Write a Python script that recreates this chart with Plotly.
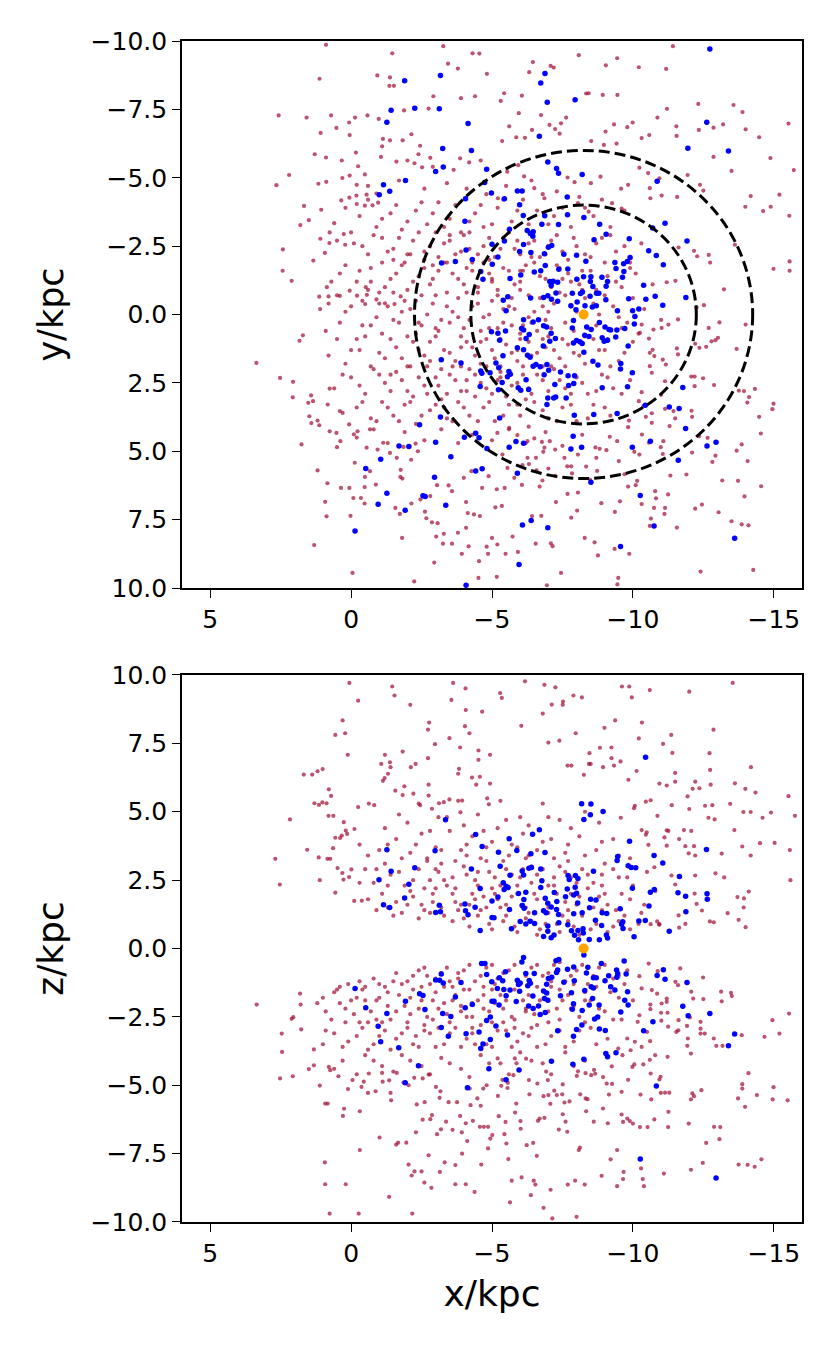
import plotly.graph_objs as go

'''
 Face-on (x, y) and edge-on (x, z) views of a star sample.
 Red: full sample, blue: selected stars, orange: the Sun.
 Values read off the reference picture, in kpc.
'''

# ---- top panel (x, y) ----------------------------------------------------
top_red_pts = [
    (0.89, -9.86), (-1.46, -9.55), (-3.27, -9.81), (1.12, -8.62), (-0.93, -8.74),
    (-1.38, -8.67), (-1.36, -8.36), (-1.52, -8.36), (-3.44, -9.17), (-3.79, -8.99),
    (-4.31, -9.55), (-4.55, -9.54), (-4.82, -8.8), (2.57, -7.28), (1.58, -7.2),
    (0.71, -7.28), (0.07, -7.02), (-0.14, -7.2), (-0.58, -7.28), (-0.98, -7.15),
    (-1.88, -7.46), (-2.75, -7.53), (-2.92, -7.98), (-3.9, -7.91), (-4.4, -7.98),
    (1.08, -6.64), (0.52, -6.82), (0.05, -6.56), (2.2, -5.1), (2.65, -4.73),
    (1.16, -4.78), (1.29, -5.86), (0.89, -5.74), (0.33, -5.63), (-0.17, -5.92),
    (-0.25, -5.42), (-0.49, -5.12), (-1.13, -6.42), (-1.1, -6.15), (-1.06, -5.76),
    (-1.38, -6.37), (-1.83, -6.37), (-2.14, -6.59), (-2.45, -6.17), (-2.39, -5.86),
    (-1.61, -5.59), (-2.0, -5.63), (-2.25, -5.53), (-2.81, -5.73), (-2.9, -5.4),
    (-2.52, -5.38), (-3.87, -5.71), (-4.19, -5.56), (-3.64, -5.29), (-4.6, -5.63),
    (1.8, -3.27), (1.5, -3.45), (1.67, -3.97), (2.42, -2.38), (2.43, -1.6),
    (2.11, -1.23), (1.09, -2.77), (0.76, -3.0), (0.77, -2.61), (1.06, -3.83),
    (0.6, -3.34), (0.26, -2.94), (0.21, -2.55), (1.34, -1.97), (0.93, -2.25),
    (0.35, -4.17), (0.06, -4.27), (0.88, -4.85), (0.31, -4.99), (0.05, -5.08),
    (-0.2, -4.74), (-0.19, -4.35), (-0.2, -4.04), (-0.55, -4.38), (-0.49, -3.98),
    (-0.76, -3.99), (-0.9, -4.42), (-0.96, -4.09), (0.86, -1.0), (0.8, -0.66),
    (1.13, -0.65), (0.4, -0.68), (0.05, -0.87), (-0.21, -0.69), (-0.52, -1.0),
    (-0.56, -0.72), (-0.5, -0.38), (-0.9, -0.55), (-1.2, -0.41), (-1.54, -0.38),
    (-1.76, -0.66),
    (-11.42, -9.81), (-8.08, -9.48), (-9.44, -9.37), (-10.21, -9.04), (-11.18, -8.98),
    (-9.04, -9.11), (-6.45, -9.23), (-7.08, -9.09), (-7.19, -9.03), (-6.32, -8.86),
    (-8.43, -8.09), (-8.34, -8.08), (-8.93, -8.03), (-9.45, -8.03), (-12.32, -7.7),
    (-13.57, -7.66), (-13.89, -7.4), (-11.21, -7.52), (-10.87, -7.2), (-9.99, -7.02),
    (-10.58, -6.56), (-10.31, -6.45), (-11.54, -6.88), (-11.55, -6.53), (-12.34, -6.75),
    (-12.86, -6.83), (-13.2, -6.95), (-14.0, -6.77), (-15.52, -6.98), (-14.48, -6.48),
    (-14.88, -5.72), (-15.71, -5.28), (-15.2, -4.38), (-14.89, -3.94), (-14.18, -4.33),
    (-13.99, -3.94), (-13.5, -5.25), (-12.86, -5.76), (-11.94, -5.1), (-12.38, -4.74),
    (-12.5, -4.53), (-11.57, -4.3), (-15.55, -3.61), (-14.62, -3.78), (-13.62, -2.55),
    (-12.69, -2.18), (-12.74, -1.9), (-12.17, -2.33), (-12.28, -2.13), (-14.99, -1.67),
    (-15.56, -1.6), (-15.56, -1.94), (-13.23, -0.92), (-12.52, -0.34), (-12.26, -0.26),
    (-11.51, -1.23), (-11.2, -1.18), (-11.62, -2.45), (-9.58, -4.6), (-9.83, -4.74),
    (-10.6, -4.62), (-10.62, -4.25), (-11.02, -4.35), (-10.23, -5.37), (-10.54, -5.17),
    (-10.94, -4.98), (-8.85, -5.04), (-8.51, -4.8), (-9.26, -4.07), (-9.6, -3.87),
    (-8.05, -4.07), (-8.43, -3.76), (-7.68, -5.01), (-7.93, -4.84), (-6.5, -4.62),
    (-6.86, -4.25), (-5.93, -5.46), (-6.14, -5.05), (-5.54, -5.22), (-5.21, -4.25),
    (-5.36, -6.34), (-5.86, -6.48), (-5.61, -6.88), (-7.45, -6.99), (-7.24, -6.78),
    (-7.4, -6.61), (-6.17, -6.46), (-6.42, -6.75), (-5.43, -8.09), (-5.31, -7.81),
    (-6.06, -8.0), (-5.95, -7.36), (-6.74, -7.29), (-7.04, -6.93), (-7.63, -7.2),
    (-8.52, -6.34), (-8.97, -6.2), (-9.42, -6.25), (-9.8, -6.85), (-9.33, -6.95),
    (-9.03, -6.69),
    (3.36, 1.77), (2.52, 2.32), (2.06, 2.46), (2.07, 3.03), (1.71, 0.76),
    (1.83, 0.96), (1.76, 4.75), (1.42, 2.96), (1.52, 3.23), (1.35, 3.17),
    (1.41, 3.97), (1.13, 4.05), (1.19, 5.7), (1.31, 8.43), (0.84, 6.17),
    (0.92, 6.85), (0.87, 7.38), (-0.05, 9.45), (0.02, 7.36), (0.36, 6.34),
    (0.06, 6.34), (-0.13, 5.42), (-0.49, 5.94), (-0.48, 6.31), (-0.08, 6.71),
    (-0.35, 6.71), (-0.48, 6.91), (-0.88, 6.22), (-0.67, 5.73), (-1.14, 4.69),
    (-0.94, 4.94), (-2.13, 5.31), (-1.76, 5.68), (-1.82, 6.0), (-1.57, 7.07),
    (-1.73, 7.29), (-2.14, 6.91), (-2.46, 6.76), (-2.62, 7.21), (-2.67, 7.45),
    (-2.87, 7.6), (-3.07, 7.63), (-1.81, 8.17), (-2.24, 9.76), (-2.95, 9.07),
    (-3.26, 8.38), (-3.58, 8.38), (-3.29, 8.02), (-3.02, 8.12), (-3.79, 7.98),
    (-4.08, 7.8), (-3.93, 8.75), (-4.17, 8.48), (-4.54, 9.02), (-4.52, 9.63),
    (-4.81, 8.49), (-4.86, 8.75), (-5.0, 8.17), (-4.36, 7.31), (-4.57, 7.37),
    (-4.14, 7.26), (-4.08, 6.86), (-3.46, 6.25), (-3.58, 6.46), (-3.05, 6.24),
    (-2.81, 6.64), (-4.0, 5.97), (-4.27, 5.73), (-4.65, 6.34), (-4.88, 5.91),
    (-2.29, 4.72), (-2.37, 5.0), (-1.62, 5.24), (-1.75, 5.94), (-1.38, 5.06),
    (-1.86, 4.84), (-0.55, 4.87), (-0.67, 4.2), (-0.1, 4.38), (-0.23, 4.27),
    (0.38, 4.63), (0.5, 4.85), (0.76, 4.27), (0.52, 4.33), (1.19, 3.88),
    (1.48, 3.72), (0.83, 3.29), (0.76, 2.71), (0.4, 3.53), (0.07, 4.02),
    (-11.6, 0.18), (-13.07, 0.29), (-14.0, 0.37), (-12.6, 1.18), (-12.79, 0.98),
    (-12.93, 0.94), (-13.68, 1.26), (-12.07, 2.27), (-12.19, 2.27), (-12.49, 2.33),
    (-12.88, 2.58), (-13.76, 2.78), (-13.94, 2.8), (-14.33, 2.72), (-14.06, 3.22),
    (-14.12, 3.02), (-14.99, 3.26), (-14.95, 3.46), (-14.48, 3.74), (-14.54, 4.35),
    (-13.86, 4.75), (-13.68, 4.98), (-14.07, 5.36), (-14.55, 6.28), (-13.73, 6.08),
    (-13.96, 6.65), (-12.82, 5.39), (-12.93, 5.16), (-13.17, 6.07), (-12.45, 6.95),
    (-12.21, 7.1), (-13.04, 7.23), (-13.86, 7.67), (-14.1, 7.71), (-13.5, 7.56),
    (-12.4, 9.4), (-14.27, 9.34), (-11.9, 5.85), (-11.12, 7.29), (-11.14, 7.07),
    (-11.56, 7.79), (-10.6, 7.73), (-10.64, 7.46), (-10.15, 6.08), (-10.1, 6.24),
    (-9.83, 6.29), (-11.25, 6.58), (-10.82, 6.72), (-10.75, 7.07), (-10.31, 6.93),
    (-9.54, 6.83), (-9.36, 7.22), (-9.35, 8.57), (-9.87, 8.75), (-9.45, 9.87),
    (-9.48, 9.63), (-8.76, 8.81), (-7.45, 9.45), (-6.95, 9.9), (-8.29, 8.17),
    (-8.64, 8.33), (-8.02, 7.17), (-7.81, 7.43), (-7.15, 8.47), (-7.09, 8.37),
    (-6.55, 8.38), (-5.48, 8.75), (-5.92, 8.68), (-5.17, 9.59), (-6.42, 7.37),
    (-6.75, 7.36), (-5.73, 8.12), (-5.19, 8.41), (-6.69, 6.29), (-7.27, 6.86),
    (-7.68, 6.56), (-8.05, 6.51), (-8.88, 6.9), (-8.48, 6.05), (-8.73, 5.72),
    (-9.5, 5.36), (-8.67, 4.86), (-8.34, 5.56), (-7.67, 5.55), (-7.84, 5.81),
    (-7.0, 5.63), (-7.24, 5.9), (-6.31, 5.47), (-6.58, 5.7), (-6.79, 6.07),
    (-5.79, 5.97), (-6.06, 6.23), (-5.17, 6.39), (-5.45, 6.34), (-5.35, 7.0),
    (-5.12, 7.05), (-10.79, 6.46), (-9.7, 5.84), (-10.05, 5.02), (-10.23, 5.12),
    (-10.99, 4.85), (-11.06, 5.1), (-11.33, 5.89), (-12.1, 5.05), (-12.65, 4.51),
    (-12.08, 3.52), (-12.1, 3.74), (-12.35, 4.45), (-11.3, 4.08), (-11.5, 3.8),
    (-11.08, 4.63), (-10.67, 3.96), (-10.46, 3.74), (-10.67, 3.61), (-9.86, 3.88),
    (-9.83, 4.12), (-10.32, 4.39), (-10.57, 4.69), (-9.44, 4.63), (-9.06, 4.96),
    (-9.18, 4.47), (-8.82, 4.91), (-8.7, 5.24), (-8.17, 4.87), (-8.05, 5.12),
    (-7.57, 5.24), (-7.81, 5.55), (-7.24, 4.94), (-7.05, 4.63), (-6.56, 5.24),
    (-6.82, 5.02), (-6.08, 5.51), (-6.26, 5.24), (-5.37, 5.12), (-5.55, 5.61),
    (-5.61, 4.14), (-5.9, 4.41), (-5.19, 4.33), (-6.26, 4.63), (-6.5, 4.53),
    (-6.77, 4.66), (-6.86, 4.87), (-11.17, 1.83), (-11.14, 2.44), (-10.67, 2.13),
    (-11.0, 2.93), (-10.6, 1.89), (-10.7, 1.29), (-10.76, 1.52), (-11.06, 1.65),
    (-11.56, 1.24), (-11.6, 1.46), (-12.21, 1.07), (-12.36, 1.22), (-10.31, 2.84),
    (-10.21, 3.17), (-10.37, 3.35), (-11.14, 3.45), (-11.44, 3.53), (-12.19, 2.62),
    (-12.69, 0.49), (-13.02, 0.85), (-10.25, 0.67), (-10.57, 0.88), (-10.73, 0.55),
    (-10.31, 0.37), (-11.02, 0.49), (-11.26, 0.37),
    # dense disc
    (-0.3, -3.6), (-0.9, -3.2), (-1.4, -3.7), (-1.8, -3.1), (-2.3, -3.8),
    (-2.7, -3.3), (-3.1, -4.1), (-3.5, -3.5), (-3.9, -3.0), (-4.4, -3.7),
    (-4.8, -4.4), (-5.2, -3.9), (-5.7, -3.4), (-6.1, -4.2), (-6.6, -3.8),
    (-7.0, -3.3), (-7.5, -3.9), (-8.1, -4.3), (-8.6, -3.6), (-9.2, -3.2),
    (-9.7, -3.8), (-0.1, -2.6), (-0.6, -2.2), (-1.1, -2.8), (-1.5, -2.4),
    (-1.9, -1.9), (-2.2, -2.7), (-2.6, -2.3), (-2.9, -1.8), (-3.3, -2.6),
    (-3.7, -2.2), (-4.0, -2.9), (-4.3, -1.9), (-4.7, -2.5), (-5.1, -2.1),
    (-5.4, -2.8), (-5.8, -2.4), (-6.2, -1.8), (-6.5, -2.7), (-6.9, -2.2),
    (-7.3, -2.9), (-7.7, -2.0), (-8.0, -2.5), (-8.5, -2.1), (-8.9, -2.8),
    (-9.4, -2.3), (-9.9, -1.9), (-10.3, -2.6), (0.4, -1.5), (-0.2, -1.2),
    (-0.7, -1.7), (-1.2, -1.0), (-1.6, -1.5), (-2.0, -0.9), (-2.4, -1.4),
    (-2.8, -1.1), (-3.1, -1.6), (-3.4, -0.8), (-3.8, -1.3), (-4.1, -1.7),
    (-4.5, -1.0), (-4.9, -1.5), (-5.2, -0.9), (-5.6, -1.6), (-6.0, -1.2),
    (-6.3, -0.7), (-6.7, -1.4), (-7.1, -1.0), (-7.4, -1.7), (-7.8, -1.2),
    (-8.2, -1.6), (-8.7, -0.9), (-9.1, -1.4), (-9.6, -1.0), (-10.1, -1.5),
    (-10.7, -1.1), (0.8, -0.4), (0.2, -0.1), (-0.4, -0.5), (-0.9, 0.1),
    (-1.3, -0.3), (-1.7, 0.3), (-2.1, -0.2), (-2.5, 0.4), (-2.9, -0.4),
    (-3.2, 0.2), (-3.6, -0.1), (-4.0, 0.5), (-4.3, -0.3), (-4.7, 0.1),
    (-5.0, -0.5), (-5.4, 0.3), (-5.8, -0.2), (-6.1, 0.4), (-6.5, -0.1),
    (-6.9, 0.2), (-7.2, -0.4), (-7.6, 0.3), (-8.0, -0.1), (-8.4, 0.5),
    (-8.8, 0.0), (-9.3, -0.3), (-9.8, 0.3), (-10.4, -0.2), (-11.0, 0.2),
    (0.5, 0.9), (0.0, 1.3), (-0.5, 0.8), (-1.0, 1.4), (-1.4, 0.9),
    (-1.8, 1.6), (-2.2, 1.0), (-2.6, 1.5), (-3.0, 0.8), (-3.3, 1.3),
    (-3.7, 1.7), (-4.1, 1.0), (-4.4, 1.5), (-4.8, 0.9), (-5.1, 1.6),
    (-5.5, 1.1), (-5.9, 1.7), (-6.3, 1.0), (-6.6, 1.4), (-7.0, 0.8),
    (-7.4, 1.6), (-7.7, 1.1), (-8.1, 1.5), (-8.6, 0.9), (-9.0, 1.3),
    (-9.5, 1.7), (-10.0, 1.0), (-10.6, 1.4), (0.3, 2.2), (-0.3, 2.6),
    (-0.8, 2.0), (-1.2, 2.5), (-1.6, 2.1), (-2.0, 2.8), (-2.4, 2.3),
    (-2.7, 1.9), (-3.1, 2.6), (-3.5, 2.2), (-3.9, 2.8), (-4.2, 2.0),
    (-4.6, 2.5), (-5.0, 2.9), (-5.3, 2.1), (-5.7, 2.6), (-6.1, 2.2),
    (-6.4, 2.9), (-6.8, 2.4), (-7.2, 2.0), (-7.6, 2.7), (-8.0, 2.3),
    (-8.4, 2.9), (-8.9, 2.2), (-9.3, 2.7), (-9.9, 2.4), (-0.2, 3.4),
    (-0.7, 3.8), (-1.1, 3.2), (-1.5, 3.7), (-1.9, 3.3), (-2.3, 4.0),
    (-2.8, 3.5), (-3.2, 3.1), (-3.6, 3.9), (-4.0, 3.4), (-4.5, 3.9),
    (-4.9, 3.2), (-5.4, 3.7), (-5.9, 3.3), (-6.3, 4.1), (-6.8, 3.5),
    (-7.3, 3.9), (-7.8, 3.3), (-8.4, 3.8), (-9.0, 3.4), (-2.5, -0.7),
    (-3.0, 0.5), (-3.4, -1.9), (-3.9, 1.2), (-4.2, -2.4), (-4.6, 0.6),
    (-5.0, -1.2), (-5.3, 2.3), (-5.7, -0.6), (-6.0, 0.9), (-6.4, -2.1),
    (-6.8, -0.3), (-7.1, 1.9), (-7.5, -1.3), (-2.7, 2.9), (-3.5, -2.9),
    (-4.4, 3.0), (-5.6, -3.1), (-6.2, 3.1), (-2.0, -2.2), (-1.0, -0.8),
    (-1.4, 2.2), (-2.3, 0.7), (-3.8, -0.6), (-4.1, 2.4), (-4.9, -2.0),
    (-5.4, -0.2), (-5.9, 1.3), (-6.6, 0.6), (-7.0, -2.5), (-7.9, 0.6),
    (-8.3, -0.6), (-3.0, -3.0), (-4.7, -3.2), (-5.9, -2.7), (-3.3, 3.4),
    (-4.8, 1.9), (-2.1, 1.9), (-1.5, -2.0), (-0.4, 0.4), (-1.9, -0.5),
    (-2.6, -2.0), (-3.6, 1.9), (-4.5, -0.8), (-5.2, 0.5), (-6.0, -1.6),
    (-6.9, 1.2), (-7.6, -0.7),
    (-0.6, -4.7), (-1.7, -4.9), (-2.6, -4.6), (-3.4, -4.8), (-4.1, -4.6),
    (-5.5, -4.7), (-6.4, -4.9), (-7.3, -4.5), (0.2, -3.9), (-0.6, -4.2),
    (-1.1, -3.5), (-1.6, -4.0), (-2.0, -3.4), (-2.5, -4.1), (-2.9, -3.7),
    (-3.3, -3.2), (-3.7, -4.0), (-4.2, -3.4), (-4.6, -4.0), (-5.0, -3.3),
    (-5.4, -4.2), (-5.9, -3.8), (-6.3, -3.3), (-6.8, -4.4), (-7.2, -3.6),
    (-7.8, -3.2), (-8.3, -3.9), (-8.9, -4.2), (0.5, -2.7), (0.0, -3.0),
    (-0.4, -2.5), (-0.8, -2.9), (-1.3, -2.3), (-1.7, -2.8), (-2.1, -2.2),
    (-2.4, -3.0), (-2.8, -2.5), (-3.1, -2.1), (-3.5, -2.7), (-3.9, -2.3),
    (-4.2, -3.0), (-4.5, -2.2), (-4.9, -2.8), (-5.3, -2.4), (-5.6, -3.0),
    (-6.0, -2.2), (-6.3, -2.6), (-6.7, -2.1), (-7.1, -2.7), (-7.5, -2.3),
    (-7.9, -2.8), (-8.3, -2.2), (-8.7, -2.6), (-9.2, -2.9), (-9.7, -2.5),
    (0.7, -1.2), (0.2, -1.8), (-0.3, -1.6), (-0.7, -1.2), (-1.1, -1.9),
    (-1.4, -1.3), (-1.8, -1.8), (-2.2, -1.2), (-2.6, -1.7), (-2.9, -1.3),
    (-3.3, -1.9), (-3.6, -1.5), (-4.0, -1.1), (-4.3, -1.6), (-4.7, -1.9),
    (-5.0, -1.3), (-5.4, -1.7), (-5.8, -1.1), (-6.1, -1.6), (-6.5, -1.9),
    (-6.9, -1.3), (-7.3, -1.8), (-7.7, -1.5), (-8.1, -1.1), (-8.5, -1.6),
    (-9.0, -1.9), (-9.4, -1.2), (-9.9, -1.7), (1.1, -0.2), (0.5, -0.7),
    (0.0, -0.3), (-0.6, -0.9), (-1.0, -0.4), (-1.5, -0.8), (-1.8, -0.1),
    (-2.3, -0.5), (-2.7, 0.0), (-3.0, -0.7), (-3.4, -0.3), (-3.8, 0.1),
    (-4.1, -0.8), (-4.5, -0.4), (-4.9, 0.0), (-5.2, -0.7), (-5.6, -0.3),
    (-6.0, -0.9), (-6.3, 0.1), (-6.7, -0.6), (-7.0, -0.1), (-7.4, -0.8),
    (-7.8, -0.3), (-8.2, -0.9), (-8.6, -0.4), (-9.0, -0.7), (-9.5, 0.1),
    (-10.0, -0.6), (0.9, 0.6), (0.4, 0.3), (-0.2, 0.9), (-0.7, 0.4),
    (-1.1, 0.7), (-1.5, 0.2), (-2.0, 0.8), (-2.4, 0.3), (-2.8, 1.0),
    (-3.1, 0.6), (-3.5, 0.3), (-3.9, 0.8), (-4.2, 0.2), (-4.6, 1.0),
    (-4.9, 0.5), (-5.3, 0.9), (-5.7, 0.4), (-6.0, 0.7), (-6.4, 0.3),
    (-6.8, 0.9), (-7.1, 0.5), (-7.5, 0.9), (-7.9, 0.2), (-8.3, 0.8),
    (-8.7, 0.4), (-9.1, 0.9), (-9.6, 0.5), (-10.2, 0.7), (0.8, 1.5),
    (0.2, 1.8), (-0.3, 1.3), (-0.7, 1.9), (-1.2, 1.6), (-1.6, 1.2),
    (-2.0, 1.9), (-2.4, 1.3), (-2.8, 1.7), (-3.2, 2.0), (-3.5, 1.4),
    (-3.9, 1.9), (-4.3, 1.2), (-4.6, 1.8), (-5.0, 1.3), (-5.3, 1.9),
    (-5.7, 1.4), (-6.1, 1.9), (-6.4, 1.5), (-6.8, 1.9), (-7.2, 1.3),
    (-7.6, 1.9), (-7.9, 1.4), (-8.3, 1.8), (-8.8, 1.3), (-9.2, 1.9),
    (-9.7, 1.4), (0.6, 2.7), (0.0, 2.3), (-0.5, 2.9), (-1.0, 2.2),
    (-1.4, 2.8), (-1.8, 2.4), (-2.2, 3.0), (-2.6, 2.6), (-3.0, 2.3),
    (-3.4, 2.9), (-3.7, 2.4), (-4.1, 2.8), (-4.4, 2.2), (-4.8, 2.7),
    (-5.2, 2.4), (-5.5, 3.0), (-5.9, 2.5), (-6.3, 2.7), (-6.6, 2.2),
    (-7.0, 2.8), (-7.4, 2.4), (-7.8, 2.9), (-8.2, 2.5), (-8.7, 2.8),
    (-9.1, 2.3), (-9.6, 2.9), (0.3, 3.6), (-0.4, 3.2), (-0.9, 3.9),
    (-1.3, 3.4), (-1.7, 3.9), (-2.1, 3.2), (-2.5, 3.7), (-3.0, 3.3),
    (-3.4, 3.8), (-3.8, 3.2), (-4.2, 3.7), (-4.7, 3.4), (-5.1, 3.9),
    (-5.6, 3.3), (-6.0, 3.7), (-6.5, 3.2), (-7.0, 3.8), (-7.5, 3.4),
    (-8.0, 3.9), (-8.6, 3.3), (-9.2, 3.7), (-0.2, 4.5), (-0.8, 4.2),
    (-1.3, 4.7), (-1.9, 4.3), (-2.6, 4.6), (-3.2, 4.2), (-3.8, 4.7),
    (-4.3, 4.4), (-5.0, 4.6), (-5.6, 4.2), (-6.2, 4.7), (-6.9, 4.3),
    (-7.5, 4.8), (-8.2, 4.4),
]

top_blue_pts = [
    (-1.9, -8.55), (-3.17, -8.74), (-1.42, -7.47), (-2.26, -7.54), (-3.13, -7.52),
    (-1.27, -7.03), (-4.15, -6.98), (-3.25, -6.07), (-4.27, -6.0), (-3.27, -5.39),
    (-3.0, -5.23), (-4.81, -5.31), (-1.93, -4.9), (-1.15, -4.74), (-1.37, -4.51),
    (-1.0, -4.38), (-4.74, -4.83), (-4.98, -4.44), (-4.06, -4.23), (-4.04, -3.41),
    (-5.0, -2.57), (-4.08, -2.36), (-4.3, -2.01), (-3.7, -1.94), (-3.21, -1.88),
    (-5.01, -1.84), (-4.6, -1.57), (-4.68, -1.29),
    (-12.73, -9.71), (-6.88, -8.81), (-6.73, -8.46), (-6.96, -7.76), (-7.95, -7.85),
    (-12.62, -7.03), (-6.68, -6.52), (-11.95, -6.08), (-13.39, -5.98), (-6.98, -5.58),
    (-7.29, -5.34), (-7.36, -5.16), (-8.2, -5.12), (-10.86, -4.87), (-5.9, -4.52),
    (-6.07, -4.52), (-5.44, -4.23), (-7.67, -4.3), (-5.98, -4.01), (-6.11, -3.62),
    (-6.87, -3.61), (-7.68, -3.65), (-8.26, -3.55), (-6.25, -3.07), (-6.36, -2.96),
    (-6.46, -3.03), (-6.45, -2.86), (-6.77, -3.3), (-7.36, -3.29), (-8.82, -3.3),
    (-11.14, -3.34), (-10.7, -3.16), (-9.05, -2.93), (-5.62, -3.12), (-5.44, -2.69),
    (-9.87, -2.77), (-8.62, -2.73), (-11.92, -2.69), (-6.12, -2.56), (-7.0, -2.46),
    (-7.12, -2.52), (-5.98, -2.3), (-6.38, -2.27), (-6.86, -2.22), (-7.55, -2.2),
    (-8.0, -2.17), (-10.56, -2.33), (-10.83, -2.16), (-5.21, -2.1), (-8.33, -1.95),
    (-9.36, -1.9), (-9.67, -1.86), (-9.8, -1.94), (-9.9, -2.08), (-11.08, -1.82),
    (-6.89, -1.79), (-7.37, -1.65), (-7.69, -1.66), (-9.4, -1.68), (-9.68, -1.57),
    (-6.5, -1.55), (-6.73, -1.6), (-6.02, -1.44), (-5.64, -1.32), (-8.01, -1.29),
    (-8.25, -1.38), (-8.51, -1.38), (-8.49, -1.21), (-8.9, -1.36), (-9.1, -1.21),
    (-9.05, -1.03), (-9.63, -1.36), (-7.05, -1.21), (-7.17, -1.22), (-7.33, -1.18),
    (-7.1, -1.06), (-10.38, -1.07), (-8.58, -1.02), (-7.85, -0.78), (-8.14, -0.77),
    (-8.21, -0.82), (-8.71, -0.78), (-8.79, -0.78), (-8.48, -0.67), (-9.04, -0.54),
    (-7.27, -0.79), (-6.37, -0.6), (-6.83, -0.62), (-6.98, -0.69), (-7.11, -0.56),
    (-7.33, -0.48), (-5.4, -0.52), (-5.56, -0.65), (-9.85, -0.58), (-10.46, -0.56),
    (-10.79, -0.67), (-11.88, -0.62), (-11.06, -0.34), (-7.8, -0.32), (-8.02, -0.46),
    (-8.3, -0.32), (-8.56, -0.27), (-8.7, -0.32), (-9.45, -0.14), (-9.99, -0.14),
    (-10.21, -0.2), (-5.5, -0.14), (-7.98, -0.17),
    (-4.98, 0.63), (-3.2, 1.65), (-3.9, 1.77), (-4.6, 2.07), (-4.64, 2.15),
    (-4.93, 2.13), (-4.58, 2.63), (-3.17, 3.75), (-2.43, 4.03), (-4.42, 4.34),
    (-4.02, 4.49), (-4.54, 4.51), (-3.0, 4.67), (-1.7, 4.81), (-2.05, 4.83),
    (-4.82, 4.9), (-1.05, 5.29), (-3.54, 5.2), (-0.52, 5.63), (-4.42, 5.72),
    (-4.65, 5.64), (-2.96, 5.95), (-1.27, 6.54), (-2.55, 6.63), (-2.63, 6.65),
    (-0.96, 6.94), (-1.92, 7.16), (-3.36, 6.97), (-0.14, 7.92), (-4.08, 9.9),
    (-6.12, 0.19), (-6.46, 0.27), (-6.65, 0.19), (-7.89, 0.22), (-8.81, 0.29),
    (-10.07, 0.07), (-10.05, 0.35), (-9.71, 0.51), (-9.43, 0.57), (-9.15, 0.55),
    (-9.21, 0.57), (-9.01, 0.46), (-8.36, 0.46), (-8.52, 0.55), (-7.85, 0.49),
    (-6.83, 0.41), (-6.94, 0.46), (-6.05, 0.51), (-6.12, 0.57), (-5.48, 0.6),
    (-5.21, 0.69), (-6.32, 0.73), (-7.1, 0.69), (-7.25, 0.88), (-7.05, 0.98),
    (-6.21, 0.88), (-8.29, 0.76), (-8.44, 0.8), (-8.91, 0.85), (-9.1, 0.94),
    (-8.98, 0.98), (-9.39, 0.82), (-5.27, 0.94), (-7.89, 1.04), (-8.12, 1.0),
    (-8.2, 1.06), (-8.0, 0.95), (-6.82, 1.15), (-9.83, 1.15), (-5.9, 1.22),
    (-8.26, 1.38), (-6.12, 1.29), (-5.39, 1.51), (-6.26, 1.49), (-6.35, 1.56),
    (-5.14, 1.77), (-8.58, 1.71), (-8.76, 1.85), (-6.46, 1.89), (-6.56, 1.83),
    (-6.71, 1.91), (-6.95, 1.83), (-7.01, 2.04), (-6.85, 2.2), (-9.57, 1.79),
    (-9.56, 1.99), (-5.24, 1.95), (-5.6, 2.08), (-5.55, 2.28), (-5.65, 2.18),
    (-7.43, 2.1), (-7.7, 2.24), (-7.93, 2.24), (-9.98, 2.13), (-6.21, 2.39),
    (-5.36, 2.49), (-5.23, 2.75), (-7.23, 2.56), (-7.9, 2.52), (-7.72, 2.6),
    (-5.93, 2.68), (-6.02, 2.77), (-6.3, 2.74), (-8.91, 2.68), (-9.81, 2.64),
    (-11.77, 2.67), (-6.98, 3.05), (-7.19, 3.05), (-7.26, 3.02), (-7.63, 3.05),
    (-6.95, 3.29), (-10.44, 3.32), (-11.29, 3.38), (-11.64, 3.44), (-8.61, 3.66),
    (-7.92, 3.68), (-9.44, 3.62), (-5.27, 3.78), (-11.87, 4.17), (-7.88, 4.45),
    (-5.85, 4.64), (-6.12, 4.71), (-10.62, 4.63), (-5.61, 4.85), (-7.8, 4.92),
    (-8.18, 4.85), (-9.98, 4.85), (-12.63, 4.81), (-12.95, 4.67), (-11.61, 5.33),
    (-5.9, 5.8), (-8.51, 6.13), (-10.26, 6.62), (-6.39, 7.53), (-6.08, 7.7),
    (-6.98, 7.8), (-10.75, 7.73), (-13.61, 8.18), (-9.56, 8.48), (-5.96, 9.14),
]

# ---- bottom panel (x, z) -------------------------------------------------
bottom_red_pts = [
    (0.06, 9.71), (-1.46, 9.58), (-1.54, 9.25), (-0.25, 9.06), (-2.1, 8.91),
    (-3.62, 9.71), (-4.06, 9.51), (-3.56, 9.09), (-4.65, 8.66), (-4.07, 8.72),
    (-2.77, 8.26), (-2.73, 8.0), (0.3, 8.34), (0.56, 7.81), (0.21, 7.87),
    (0.12, 7.08), (-2.98, 7.47), (-3.49, 7.69), (-4.04, 8.13), (-4.2, 7.87),
    (-3.87, 7.35), (-1.83, 7.2), (-1.2, 7.08), (-1.07, 6.75), (-1.38, 6.81),
    (-1.4, 6.63), (-2.29, 6.75), (-2.12, 6.63), (-2.73, 6.96), (1.68, 6.36),
    (1.38, 6.36), (1.19, 6.48), (1.01, 6.56), (2.17, 4.72), (2.69, 3.28),
    (2.53, 2.34), (1.56, 3.61), (1.11, 2.5), (0.56, 2.04), (1.3, 5.31),
    (1.14, 5.25), (1.02, 5.34), (0.87, 5.31), (0.79, 5.82), (0.71, 5.58),
    (0.8, 4.85), (0.63, 4.85), (1.15, 3.33), (0.84, 3.28), (0.74, 3.28),
    (0.64, 3.67), (0.26, 4.62), (0.19, 4.31), (0.14, 4.19), (0.33, 4.13),
    (-0.12, 4.37), (-0.25, 5.17), (-0.63, 5.3), (-0.82, 5.24), (-1.13, 6.13),
    (-1.19, 6.23), (-1.31, 6.39), (-1.89, 5.93), (-1.57, 5.77), (-1.83, 5.61),
    (-2.21, 5.66), (-2.75, 5.99), (-2.45, 5.24), (-2.75, 5.59), (-3.12, 5.31),
    (-3.29, 5.35), (-3.49, 5.45), (-3.8, 6.39), (-3.83, 6.57), (-4.29, 6.25),
    (-4.44, 5.99), (-4.57, 6.28), (-4.52, 7.24), (-4.52, 6.9), (-4.93, 7.08),
    (-4.93, 6.03), (-4.83, 5.49), (-4.89, 5.27), (-3.94, 5.41), (-3.88, 4.98),
    (-2.87, 5.11), (0.48, 2.94), (0.31, 2.76), (-0.01, 2.89), (-0.11, 1.74),
    (-0.38, 1.75), (0.27, 2.52), (0.07, 2.61), (0.56, 4.05), (0.39, 4.04),
    (-6.17, 9.77), (-6.86, 9.64), (-7.25, 9.55), (-7.89, 9.25), (-8.19, 9.18),
    (-7.52, 9.03), (-7.51, 8.91), (-7.12, 8.92), (-6.8, 8.59), (-9.61, 9.58),
    (-9.87, 9.58), (-9.96, 9.18), (-10.6, 9.45), (-12.0, 9.39), (-13.54, 9.71),
    (-5.29, 9.34), (-5.35, 9.16), (-6.04, 8.14), (-7.97, 7.87), (-7.39, 7.6),
    (-7.0, 7.53), (-8.99, 8.07), (-9.37, 8.34), (-10.32, 8.26), (-10.21, 7.68),
    (-11.07, 7.48), (-11.36, 7.81), (-12.86, 8.0), (-9.24, 7.35), (-8.83, 7.34),
    (-9.56, 6.84), (-9.24, 6.96), (-9.33, 6.69), (-8.46, 7.14), (-7.68, 6.69),
    (-7.82, 6.69), (-8.44, 6.75), (-8.5, 6.75), (-11.4, 7.15), (-12.72, 7.14),
    (-8.94, 6.63), (-8.26, 6.35), (-10.13, 6.49), (-9.84, 6.17), (-10.94, 6.03),
    (-11.2, 5.96), (-11.5, 6.42), (-11.5, 6.1), (-12.74, 6.53), (-12.76, 5.99),
    (-12.21, 6.1), (-12.36, 5.86), (-12.12, 5.84), (-11.94, 5.56), (-13.62, 6.04),
    (-13.99, 5.84), (-14.35, 5.7), (-14.19, 6.63), (-15.52, 5.57), (-15.75, 4.85),
    (-14.9, 4.97), (-14.6, 4.78), (-14.18, 4.99), (-13.45, 5.29), (-12.82, 5.24),
    (-12.56, 5.22), (-12.0, 5.1), (-11.38, 5.24), (-10.87, 4.85), (-10.46, 5.37),
    (-10.63, 5.42), (-10.07, 5.22), (-10.04, 5.13), (-9.57, 4.78), (-10.31, 4.33),
    (-10.49, 4.25), (-11.2, 4.32), (-11.26, 4.3), (-11.81, 4.33), (-12.07, 4.3),
    (-12.68, 4.78), (-12.9, 4.72), (-13.6, 4.33), (-13.92, 4.99), (-14.51, 3.85),
    (-15.03, 3.86), (-13.88, 3.73), (-14.18, 3.4), (-15.57, 3.6), (-15.59, 2.5),
    (-12.21, 2.67), (-12.93, 2.75), (-13.24, 2.6), (-13.71, 1.88), (-13.94, 1.83),
    (-14.11, 2.08), (-13.93, 1.5), (-13.36, 1.29), (-12.73, 0.99), (-12.87, 0.96),
    (-13.75, 1.05), (-14.0, 0.78), (-12.45, 1.39), (-13.15, 3.47), (-12.17, 3.74),
    (-11.98, 3.48), (-11.12, 4.06), (-11.2, 3.76), (-10.46, 4.16), (-10.55, 3.79),
    (-11.86, 3.74), (-12.21, 3.4), (-11.64, 4.0), (-10.76, 2.97), (-11.37, 2.67),
    (-11.5, 2.34), (-12.19, 2.01), (-11.64, 0.76), (-10.93, 0.87), (-10.86, 0.99),
    (-10.94, 0.89), (-10.63, 0.89), (-11.62, 1.21), (-12.26, 1.63), (-11.86, 0.9),
    (3.35, -2.05), (2.52, -4.75), (2.07, -4.67), (2.46, -3.11), (2.45, -3.78),
    (2.11, -2.57), (2.05, -2.51), (1.77, -2.96), (1.81, -1.65), (1.79, -2.05),
    (1.5, -4.41), (1.32, -4.27), (1.32, -3.69), (1.11, -5.01), (0.92, -5.67),
    (0.83, -5.67), (0.29, -6.12), (0.25, -5.86), (0.93, -7.82), (0.92, -8.62),
    (0.19, -8.62), (0.76, -9.69), (-0.27, -9.69), (-1.35, -9.08), (-0.31, -5.95),
    (-0.31, -7.37), (-1.01, -6.91), (-1.6, -7.17), (-1.67, -7.1), (-1.96, -7.1),
    (-1.42, -5.55), (-1.4, -5.28), (-0.87, -5.22), (-1.12, -4.87), (-0.6, -5.28),
    (-0.37, -5.06), (0.11, -5.14), (-0.05, -4.81), (0.79, -4.33), (0.74, -4.45),
    (0.45, -4.67), (-2.04, -7.9), (-2.25, -8.15), (-2.5, -8.15), (-2.15, -8.3),
    (-2.6, -8.56), (-2.85, -8.75), (-2.75, -7.56), (-3.15, -8.17), (-3.32, -7.82),
    (-3.7, -7.92), (-3.7, -8.62), (-4.07, -8.62), (-2.17, -9.69), (-4.38, -8.9),
    (-4.62, -7.9), (-3.94, -7.5), (-4.12, -7.04), (-4.86, -7.31), (-4.94, -6.95),
    (-5.01, -6.82), (-4.57, -6.52), (-4.71, -6.52), (-4.86, -6.52), (-2.3, -6.72),
    (-2.54, -6.26), (-2.81, -6.24), (-2.87, -6.09), (-3.05, -6.79), (-3.19, -6.61),
    (-3.37, -6.33), (-3.6, -6.63), (-3.93, -6.72), (-3.87, -6.12), (-4.07, -6.39),
    (-4.32, -6.3), (-3.14, -5.46), (-3.46, -5.62), (-3.76, -5.62), (-2.61, -5.62),
    (-2.33, -5.7), (-3.01, -5.06), (-3.17, -5.22), (-2.75, -4.61), (-2.54, -4.75),
    (-2.24, -4.73), (-2.04, -5.0), (-1.62, -4.55), (-1.86, -4.9), (-1.1, -4.55),
    (-1.35, -4.82), (-0.45, -4.87), (-0.63, -4.57), (-4.21, -5.12), (-4.48, -5.48),
    (-4.69, -5.12), (-4.81, -5.0), (-4.24, -5.73), (-4.6, -5.75),
    (-15.54, -2.38), (-14.95, -2.62), (-15.2, -3.11), (-14.67, -3.23), (-13.86, -3.17),
    (-13.18, -3.56), (-12.96, -3.56), (-12.87, -3.29), (-12.4, -3.11), (-11.95, -3.29),
    (-11.93, -3.56), (-12.06, -3.84), (-11.54, -3.05), (-11.62, -2.62), (-11.25, -2.86),
    (-11.01, -2.64), (-11.23, -3.96), (-10.79, -3.9), (-10.6, -4.07), (-10.37, -4.24),
    (-9.92, -3.72), (-9.98, -4.33), (-10.05, -4.24), (-10.98, -4.69), (-10.94, -4.79),
    (-10.63, -4.57), (-10.27, -5.34), (-10.65, -5.52), (-11.14, -5.27), (-11.29, -5.27),
    (-12.11, -5.3), (-12.17, -5.4), (-12.06, -5.52), (-11.26, -5.97), (-10.76, -6.25),
    (-10.25, -6.53), (-10.52, -6.53), (-10.0, -6.4), (-11.98, -6.4), (-11.25, -6.53),
    (-12.88, -6.52), (-13.1, -6.53), (-13.73, -5.48), (-13.98, -5.79), (-14.4, -5.36),
    (-14.1, -4.56), (-13.88, -4.96), (-13.88, -5.12), (-14.96, -5.52), (-15.49, -5.55),
    (-14.99, -5.07), (-12.6, -7.11), (-13.07, -6.97), (-12.48, -7.84), (-12.06, -8.09),
    (-13.75, -7.9), (-14.07, -7.91), (-14.32, -7.98), (-14.56, -7.71), (-11.1, -8.23),
    (-10.29, -8.04), (-10.35, -8.43), (-10.39, -8.69), (-9.67, -8.17), (-9.65, -8.43),
    (-9.44, -8.69), (-9.21, -7.71), (-9.44, -7.37), (-8.89, -8.31), (-8.29, -8.63),
    (-7.95, -8.49), (-7.69, -8.63), (-8.0, -9.81), (-7.08, -8.82), (-7.14, -9.87),
    (-6.83, -9.48), (-6.38, -9.02), (-6.48, -8.49), (-6.54, -8.63), (-6.05, -8.37),
    (-5.7, -8.49), (-5.64, -9.28), (-5.58, -7.7), (-6.59, -7.58), (-6.46, -7.11),
    (-6.23, -7.19), (-5.51, -7.13), (-5.44, -6.79), (-5.24, -6.13), (-5.48, -6.34),
    (-6.02, -6.59), (-6.01, -6.31), (-6.69, -6.22), (-6.63, -6.3), (-6.86, -6.19),
    (-7.37, -6.62), (-7.67, -6.7), (-7.51, -6.06), (-7.61, -6.33), (-8.12, -7.28),
    (-8.08, -7.37), (-8.61, -6.33), (-8.94, -5.85), (-9.11, -6.39), (-9.65, -6.34),
    (-9.8, -6.22), (-9.89, -6.31), (-9.6, -6.07), (-8.34, -5.95), (-8.39, -5.51),
    (-7.57, -5.63), (-7.75, -5.59), (-7.49, -5.33), (-7.21, -5.2), (-7.3, -5.36),
    (-7.07, -5.68), (-6.33, -5.33), (-6.83, -5.4), (-5.86, -5.67), (-5.82, -6.0),
    (-5.21, -5.39), (-5.55, -5.1), (-5.33, -5.02), (-6.31, -4.81), (-6.98, -4.81),
    (-7.0, -5.36), (-7.51, -4.97), (-8.13, -5.33), (-8.32, -5.48), (-9.15, -5.34),
    (-9.26, -4.95), (-9.07, -4.94), (-8.94, -4.7), (-8.66, -4.58), (-8.52, -4.63),
    (-8.32, -4.56), (-8.62, -4.44), (-8.01, -4.66), (-8.05, -4.49), (-6.92, -4.5),
    (-6.61, -4.94), (-6.21, -4.03), (-5.87, -4.2), (-5.81, -4.02), (-5.37, -4.8),
    (-5.56, -4.91), (-5.76, -4.63), (-5.2, -4.02), (-9.83, -4.8), (-9.6, -5.24),
    (-9.25, -4.31), (-10.99, -5.28), (-12.43, -5.18),
    (-10.23, -1.01), (-10.56, -0.55), (-10.88, -0.83), (-10.67, -1.52), (-10.86, -1.65),
    (-11.2, -1.83), (-11.2, -1.95), (-11.51, -1.22), (-11.6, -1.34), (-11.68, -0.73),
    (-12.07, -1.58), (-12.14, -1.83), (-12.49, -1.06), (-12.5, -1.85), (-13.13, -1.58),
    (-13.15, -1.93), (-13.48, -1.62), (-13.51, -1.74), (-10.31, -1.46), (-10.62, -2.05),
    (-11.02, -2.01), (-10.62, -2.22), (-10.23, -2.44), (-10.17, -2.68), (-11.0, -2.35),
    (-11.23, -2.35), (-11.61, -2.99), (-11.92, -2.83), (-12.02, -2.52), (-12.4, -2.68),
    (-12.55, -3.11), (-12.4, -2.93), (-10.5, -3.05), (-10.61, -3.39), (-10.07, -3.41),
    (-9.8, -3.29), (-10.31, -3.6), (-9.48, -3.66), (-9.63, -3.9),
    # upper lobe
    (-1.3, 1.5), (-1.8, 1.3), (-2.2, 1.9), (-2.6, 1.4), (-3.0, 2.2),
    (-3.3, 1.2), (-3.7, 1.7), (-4.0, 1.1), (-4.3, 2.0), (-4.6, 1.4),
    (-4.9, 0.9), (-5.2, 1.8), (-5.5, 1.2), (-5.8, 0.8), (-6.1, 1.6),
    (-6.4, 1.0), (-6.7, 0.7), (-7.0, 1.3), (-7.3, 0.9), (-7.6, 1.7),
    (-7.9, 0.8), (-8.2, 1.2), (-8.5, 0.7), (-8.9, 1.4), (-9.3, 0.8),
    (-9.7, 1.2), (-10.2, 0.9), (-0.8, 2.4), (-1.4, 2.7), (-1.9, 2.3),
    (-2.4, 2.9), (-2.8, 2.5), (-3.2, 3.1), (-3.6, 2.6), (-4.0, 3.0),
    (-4.4, 2.5), (-4.8, 3.2), (-5.1, 2.6), (-5.5, 2.9), (-5.9, 2.3),
    (-6.2, 3.3), (-6.6, 2.7), (-7.0, 2.3), (-7.4, 3.0), (-7.8, 2.6),
    (-8.2, 2.9), (-8.6, 2.4), (-9.0, 3.1), (-9.5, 2.6), (-10.0, 2.3),
    (-10.5, 2.8), (-1.0, 3.6), (-1.6, 4.0), (-2.1, 3.5), (-2.5, 4.2),
    (-3.0, 3.7), (-3.5, 4.3), (-3.9, 3.6), (-4.3, 4.1), (-4.8, 3.7),
    (-5.2, 4.4), (-5.7, 3.8), (-6.1, 4.2), (-6.6, 3.6), (-7.1, 4.0),
    (-7.6, 3.5), (-8.1, 4.1), (-8.7, 3.6), (-9.3, 4.0), (-1.7, 4.9),
    (-2.4, 5.3), (-3.1, 4.8), (-3.8, 5.4), (-4.5, 4.9), (-5.3, 5.4),
    (-6.0, 4.8), (-6.8, 5.3), (-7.4, 4.7), (-8.3, 5.0), (-2.0, 1.6),
    (-2.9, 1.7), (-3.4, 2.3), (-3.8, 1.4), (-4.2, 1.6), (-4.5, 2.8),
    (-4.7, 1.9), (-5.0, 2.2), (-5.3, 1.5), (-5.7, 1.9), (-6.0, 2.6),
    (-6.3, 1.3), (-6.5, 2.0), (-6.9, 1.8), (-7.2, 2.6), (-7.5, 1.2),
    (-7.8, 2.0), (-8.0, 1.6), (-8.4, 2.2), (-8.8, 1.9), (-9.1, 1.6),
    (-9.6, 2.0), (-3.1, 2.8), (-5.6, 3.4), (-6.4, 3.0), (-4.1, 3.4),
    (-2.7, 3.3), (-7.7, 3.2), (-8.9, 2.7), (-1.2, 3.1), (-0.5, 2.9),
    (-0.3, 3.8), (-9.9, 3.3), (-10.4, 1.6), (-10.8, 2.1),
    (-3.6, 1.0), (-4.2, 0.8), (-4.5, 1.2), (-5.0, 0.7), (-5.4, 1.0),
    (-5.9, 0.6), (-6.2, 1.1), (-6.6, 0.5), (-6.9, 0.9), (-7.4, 0.6),
    (-7.7, 1.0), (-8.1, 0.5), (-8.7, 0.9), (-9.1, 0.6), (-9.5, 1.0),
    (-9.9, 0.7), (-2.4, 1.1), (-2.8, 1.3), (-1.5, 1.2), (-0.9, 1.4),
    (-0.6, 1.8), (-1.1, 2.0), (-1.6, 1.7), (-2.1, 2.1), (-2.5, 1.6),
    (-2.9, 2.0), (-3.2, 1.5), (-3.6, 2.0), (-3.9, 1.6), (-4.4, 1.8),
    (-4.8, 1.5), (-5.1, 2.0), (-5.5, 1.6), (-5.9, 2.0), (-6.2, 1.5),
    (-6.6, 1.8), (-7.0, 1.5), (-7.3, 2.0), (-7.7, 1.4), (-8.1, 1.9),
    (-8.6, 1.5), (-9.0, 2.0), (-9.4, 1.4), (-9.9, 1.8), (-10.3, 1.3),
    (-0.3, 2.4), (-0.9, 2.9), (-1.3, 2.3), (-1.7, 2.8), (-2.2, 2.5),
    (-2.6, 2.2), (-3.0, 2.9), (-3.3, 2.5), (-3.7, 2.2), (-4.1, 2.7),
    (-4.5, 2.3), (-4.9, 2.8), (-5.3, 2.3), (-5.7, 2.7), (-6.1, 2.9),
    (-6.4, 2.4), (-6.8, 2.9), (-7.2, 2.3), (-7.6, 2.8), (-8.0, 2.4),
    (-8.4, 2.7), (-8.9, 2.3), (-9.3, 2.9), (-9.8, 2.6), (-0.6, 3.4),
    (-1.3, 3.8), (-1.8, 3.3), (-2.3, 3.8), (-2.7, 3.2), (-3.2, 3.6),
    (-3.7, 3.2), (-4.1, 3.8), (-4.6, 3.3), (-5.0, 3.9), (-5.4, 3.2),
    (-5.9, 3.7), (-6.3, 3.4), (-6.8, 3.9), (-7.2, 3.3), (-7.7, 3.8),
    (-8.3, 3.4), (-8.9, 3.9), (-9.5, 3.4), (-1.2, 4.4), (-2.0, 4.6),
    (-2.8, 4.3), (-3.4, 4.8), (-4.0, 4.5), (-4.7, 4.3), (-5.5, 4.7),
    (-6.3, 4.5), (-7.0, 4.8), (-7.8, 4.4), (-8.8, 4.6),
    # lower lobe
    (0.6, -1.6), (0.1, -1.3), (-0.4, -1.5), (-0.8, -1.1), (-1.2, -1.4),
    (-1.6, -0.9), (-2.0, -1.2), (-2.4, -0.8), (-2.8, -1.3), (-3.2, -0.9),
    (-3.6, -1.4), (-4.0, -0.8), (-4.4, -1.2), (-4.8, -0.7), (-5.2, -1.1),
    (-5.6, -0.8), (-6.0, -1.3), (-6.4, -0.7), (-6.8, -1.0), (-7.2, -0.6),
    (-7.6, -1.2), (-8.0, -0.8), (-8.4, -1.3), (-8.8, -0.7), (-9.3, -1.1),
    (-9.8, -0.8), (0.9, -2.3), (0.4, -2.0), (-0.1, -2.4), (-0.5, -1.9),
    (-0.9, -2.6), (-1.3, -2.1), (-1.7, -1.7), (-2.1, -2.4), (-2.5, -1.9),
    (-2.9, -2.6), (-3.3, -2.0), (-3.7, -1.7), (-4.1, -2.5), (-4.5, -1.9),
    (-4.9, -2.3), (-5.3, -1.7), (-5.7, -2.5), (-6.1, -1.9), (-6.5, -2.4),
    (-6.9, -1.6), (-7.3, -2.2), (-7.7, -1.7), (-8.1, -2.5), (-8.5, -1.9),
    (-9.0, -2.3), (-9.5, -1.8), (0.6, -3.1), (0.1, -3.4), (-0.4, -2.9),
    (-0.8, -3.5), (-1.2, -3.0), (-1.6, -3.3), (-2.0, -2.9), (-2.4, -3.6),
    (-2.8, -3.1), (-3.3, -3.5), (-3.7, -2.9), (-4.1, -3.3), (-4.6, -2.8),
    (-5.0, -3.6), (-5.5, -3.0), (-5.9, -3.4), (-6.4, -2.9), (-6.9, -3.5),
    (-7.4, -3.0), (-7.9, -3.4), (-8.5, -2.9), (-9.1, -3.3), (0.3, -4.1),
    (-0.5, -3.9), (-1.1, -4.3), (-1.8, -3.9), (-2.5, -4.3), (-3.2, -4.0),
    (-3.9, -4.4), (-4.6, -3.9), (-5.3, -4.2), (-6.0, -3.8), (-6.8, -4.2),
    (-7.6, -3.8), (-8.3, -4.1), (-1.0, -1.8), (-1.4, -2.6), (-1.9, -2.1),
    (-2.2, -1.5), (-2.6, -2.8), (-3.0, -1.6), (-3.4, -2.4), (-3.5, -1.2),
    (-3.9, -2.1), (-4.2, -1.5), (-4.3, -2.9), (-4.7, -1.4), (-5.1, -2.0),
    (-5.4, -2.7), (-5.8, -1.5), (-6.2, -2.2), (-6.6, -1.4), (-7.0, -2.7),
    (-7.4, -1.5), (-7.9, -2.1), (-8.3, -1.6), (-0.2, -1.8), (-0.6, -2.7),
    (-1.5, -1.2), (-2.3, -3.2), (-3.1, -2.9), (-4.4, -3.5), (-5.8, -2.9),
    (-6.3, -3.2), (-2.7, -1.0), (-3.8, -0.9), (-5.0, -1.5), (-7.1, -1.2),
    (0.2, -2.7), (1.2, -2.0), (1.0, -3.5), (-9.6, -2.6), (-10.0, -1.9),
    (-2.2, -1.0), (-2.6, -0.7), (-3.0, -1.1), (-3.4, -0.7), (-3.8, -1.1),
    (-4.2, -0.6), (-4.6, -1.0), (-5.0, -0.6), (-5.4, -0.9), (-5.8, -0.6),
    (-6.2, -1.0), (-6.6, -0.6), (-7.0, -0.9), (-7.4, -0.5), (-7.8, -1.0),
    (-8.2, -0.6), (-8.6, -1.0), (-9.0, -0.6), (-9.5, -1.0), (-1.0, -1.3),
    (-0.3, -1.2), (0.4, -1.4), (1.0, -1.8), (0.5, -1.5), (0.0, -1.9),
    (-0.5, -1.4), (-0.9, -1.9), (-1.3, -1.6), (-1.8, -1.3), (-2.1, -1.8),
    (-2.5, -1.4), (-2.9, -1.9), (-3.3, -1.4), (-3.6, -1.9), (-4.0, -1.5),
    (-4.3, -2.0), (-4.7, -1.7), (-5.1, -1.3), (-5.5, -1.9), (-5.9, -1.2),
    (-6.3, -1.7), (-6.7, -1.9), (-7.1, -1.4), (-7.5, -1.9), (-7.9, -1.3),
    (-8.3, -1.9), (-8.7, -1.4), (-9.2, -1.6), (-9.7, -1.3), (0.7, -2.6),
    (0.2, -2.2), (-0.3, -2.7), (-0.7, -2.3), (-1.1, -2.7), (-1.6, -2.3),
    (-2.0, -2.7), (-2.4, -2.2), (-2.7, -2.5), (-3.1, -2.2), (-3.5, -2.7),
    (-3.9, -2.3), (-4.3, -2.5), (-4.7, -2.2), (-5.0, -2.7), (-5.4, -2.2),
    (-5.8, -2.6), (-6.2, -2.3), (-6.6, -2.8), (-7.0, -2.3), (-7.4, -2.6),
    (-7.8, -2.2), (-8.3, -2.7), (-8.8, -2.2), (-9.3, -2.6), (0.9, -3.0),
    (0.3, -3.6), (-0.2, -3.2), (-0.6, -3.7), (-1.0, -3.2), (-1.4, -3.7),
    (-1.8, -3.1), (-2.2, -3.5), (-2.6, -3.0), (-3.0, -3.6), (-3.5, -3.1),
    (-3.9, -3.6), (-4.3, -3.1), (-4.8, -3.5), (-5.2, -3.0), (-5.7, -3.6),
    (-6.1, -3.1), (-6.6, -3.6), (-7.1, -3.2), (-7.6, -3.6), (-8.1, -3.0),
    (-8.7, -3.5), (0.6, -4.4), (-0.2, -4.6), (-0.8, -4.1), (-1.5, -4.5),
    (-2.1, -4.1), (-2.8, -4.6), (-3.5, -4.2), (-4.2, -4.7), (-4.9, -4.2),
    (-5.6, -4.6), (-6.4, -4.1), (-7.1, -4.6), (-7.9, -4.3),
]

bottom_blue_pts = [
    (-3.35, 4.71), (-4.42, 4.17), (-4.65, 3.73), (-1.27, 3.61), (-2.98, 3.57),
    (-2.26, 2.95), (-4.27, 2.91), (-1.42, 2.82), (-0.99, 2.51), (-2.05, 2.35),
    (-4.58, 2.19), (-1.9, 1.85), (-5.0, 1.74), (-1.15, 1.6), (-1.37, 1.5),
    (-3.13, 1.58), (-3.0, 1.32), (-3.17, 1.34), (-4.04, 1.63), (-4.06, 1.38),
    (-4.15, 1.23), (-4.4, 1.51), (-5.0, 1.13), (-4.58, 0.66),
    (-10.45, 6.99), (-8.18, 5.29), (-8.51, 5.28), (-8.94, 5.01), (-8.49, 4.89),
    (-8.26, 4.72), (-6.68, 4.34), (-6.44, 4.18), (-5.61, 4.01), (-9.88, 3.92),
    (-12.61, 3.62), (-5.23, 3.52), (-5.88, 3.58), (-6.38, 3.46), (-6.88, 3.51),
    (-10.75, 3.4), (-9.46, 3.36), (-9.44, 3.22), (-11.06, 3.13), (-9.83, 3.03),
    (-9.94, 2.96), (-10.1, 2.95), (-5.29, 3.01), (-6.31, 2.93), (-6.4, 2.96),
    (-6.73, 2.91), (-6.07, 2.83), (-6.12, 2.69), (-8.6, 2.82), (-5.64, 2.68),
    (-7.7, 2.67), (-7.96, 2.67), (-8.05, 2.56), (-7.74, 2.52), (-11.65, 2.63),
    (-6.77, 2.48), (-5.4, 2.4), (-5.5, 2.28), (-5.57, 2.23), (-5.43, 2.16),
    (-9.98, 2.2), (-10.76, 2.16), (-10.62, 2.06), (-6.73, 2.23), (-7.95, 2.24),
    (-7.67, 2.18), (-8.0, 2.02), (-7.9, 1.96), (-7.21, 2.05), (-11.6, 2.04),
    (-11.87, 1.91), (-12.63, 2.0), (-12.64, 1.8), (-5.94, 2.01), (-6.2, 2.06),
    (-5.21, 1.88), (-6.89, 1.84), (-6.98, 1.65), (-7.1, 1.52), (-6.83, 1.38),
    (-6.92, 1.31), (-6.13, 1.79), (-6.07, 1.57), (-6.14, 1.47), (-7.61, 1.89),
    (-8.5, 1.8), (-8.69, 1.77), (-8.04, 1.66), (-7.3, 1.72), (-7.29, 1.43),
    (-7.36, 1.24), (-8.46, 1.49), (-10.57, 1.55), (-9.55, 1.45), (-5.62, 1.43),
    (-6.51, 1.31), (-7.9, 1.27), (-8.2, 1.31), (-8.91, 1.31), (-9.07, 1.28),
    (-11.88, 1.34), (-5.07, 1.12), (-6.0, 0.99), (-6.2, 0.9), (-6.35, 1.0),
    (-6.51, 0.91), (-8.67, 1.03), (-9.64, 0.98), (-9.6, 0.89), (-10.21, 1.01),
    (-10.44, 1.02), (-7.37, 0.94), (-7.69, 0.87), (-8.89, 0.84), (-5.69, 0.72),
    (-6.98, 0.82), (-6.98, 0.63), (-6.83, 0.44), (-7.2, 0.49), (-7.1, 0.39),
    (-7.82, 0.65), (-8.05, 0.66), (-8.23, 0.72), (-8.24, 0.57), (-7.93, 0.48),
    (-8.07, 0.32), (-9.65, 0.73), (-11.29, 0.63), (-8.45, 0.33), (-8.81, 0.32),
    (-9.06, 0.49), (-9.1, 0.38), (-10.04, 0.43),
    (-0.14, -1.46), (-0.52, -2.17), (-1.27, -2.38), (-0.96, -2.84), (-1.05, -3.41),
    (-1.69, -3.63), (-1.93, -1.93), (-2.43, -1.65), (-2.55, -1.72), (-2.62, -2.23),
    (-2.39, -4.29), (-1.92, -4.91), (-3.2, -0.93), (-3.0, -1.15), (-3.14, -1.16),
    (-3.27, -1.26), (-3.9, -1.24), (-3.7, -1.77), (-3.25, -2.38), (-3.54, -2.49),
    (-3.2, -2.89), (-3.45, -3.21), (-4.05, -2.17), (-4.3, -2.05), (-4.08, -3.12),
    (-4.54, -3.05), (-4.68, -3.49), (-4.6, -3.66), (-4.94, -3.33), (-4.81, -2.63),
    (-4.94, -2.5), (-4.89, -4.4), (-4.13, -5.09), (-4.63, -0.55), (-4.75, -0.55),
    (-4.81, -0.95), (-4.99, -1.22), (-5.0, -1.93),
    (-6.12, -0.33), (-6.06, -0.49), (-7.27, -0.45), (-7.37, -0.4), (-8.26, -0.24),
    (-8.88, -0.55), (-9.69, -0.46), (-5.48, -0.85), (-7.68, -0.76), (-7.9, -0.68),
    (-8.4, -0.69), (-8.35, -0.9), (-7.29, -0.88), (-7.33, -0.79), (-6.2, -0.91),
    (-6.5, -0.91), (-9.42, -0.79), (-9.46, -0.91), (-9.43, -1.05), (-9.14, -1.0),
    (-8.7, -1.07), (-8.6, -1.07), (-9.76, -0.93), (-10.86, -0.99), (-11.08, -0.78),
    (-11.14, -1.12), (-11.92, -1.24), (-5.26, -1.07), (-5.38, -1.18), (-5.9, -1.16),
    (-6.0, -1.26), (-6.32, -1.17), (-6.36, -1.27), (-6.27, -1.36), (-5.94, -1.32),
    (-7.0, -1.1), (-7.12, -1.05), (-6.94, -1.31), (-7.92, -1.18), (-7.55, -1.23),
    (-9.01, -1.18), (-5.19, -1.46), (-5.42, -1.5), (-5.64, -1.52), (-5.98, -1.56),
    (-6.83, -1.55), (-6.94, -1.63), (-7.82, -1.62), (-8.29, -1.54), (-8.52, -1.4),
    (-8.6, -1.44), (-9.21, -1.4), (-9.36, -1.52), (-9.81, -1.58), (-5.5, -1.73),
    (-6.45, -1.74), (-6.86, -1.83), (-6.98, -1.89), (-7.43, -1.73), (-8.57, -1.83),
    (-9.71, -1.89), (-5.07, -1.93), (-5.25, -2.07), (-5.86, -1.94), (-6.3, -2.1),
    (-6.46, -2.19), (-6.65, -2.1), (-7.89, -2.02), (-7.85, -2.22), (-8.2, -2.27),
    (-8.45, -2.07), (-8.8, -2.07), (-9.83, -2.07), (-9.57, -2.32), (-11.77, -2.11),
    (-11.96, -2.46), (-12.73, -2.38), (-6.71, -2.41), (-6.89, -2.34), (-8.64, -2.58),
    (-8.75, -2.5), (-10.71, -2.68), (-5.14, -2.83), (-8.19, -2.8), (-7.33, -3.01),
    (-8.0, -2.96), (-7.89, -3.21), (-8.81, -2.94), (-9.02, -3.0), (-10.38, -3.01),
    (-5.55, -3.16), (-13.61, -3.13), (-13.39, -3.56), (-9.04, -3.84), (-9.1, -3.96),
    (-9.4, -3.81), (-8.26, -4.05), (-7.11, -4.12), (-7.87, -4.23), (-5.96, -4.44),
    (-5.5, -4.8), (-10.83, -5.03), (-10.26, -7.7), (-12.95, -8.39),
]

# the Sun and the two selection circles around it
sun_x = [-8.25]
sun_y = [0.0]
sun_z = [0.0]
circle_radii = [4, 6]

x_ticks = [5, 0, -5, -10, -15]
y_ticks = [-10, -7.5, -5, -2.5, 0, 2.5, 5, 7.5, 10]

red_colour = 'rgba(160, 12, 50, 0.7)'
font_family = 'DejaVu Sans'


def split(pts):
    return [p[0] for p in pts], [p[1] for p in pts]


top_red_x, top_red_y = split(top_red_pts)
top_blue_x, top_blue_y = split(top_blue_pts)
bottom_red_x, bottom_red_z = split(bottom_red_pts)
bottom_blue_x, bottom_blue_z = split(bottom_blue_pts)

fig = go.Figure()

for xs, ys, ax in [(top_red_x, top_red_y, 'x'), (bottom_red_x, bottom_red_z, 'x2')]:
    fig.add_trace(go.Scatter(x=xs, y=ys, mode='markers',
                             xaxis=ax, yaxis=ax.replace('x', 'y'),
                             marker=dict(size=4.2, color=red_colour, line=dict(width=0))))

for xs, ys, ax in [(top_blue_x, top_blue_y, 'x'), (bottom_blue_x, bottom_blue_z, 'x2')]:
    fig.add_trace(go.Scatter(x=xs, y=ys, mode='markers',
                             xaxis=ax, yaxis=ax.replace('x', 'y'),
                             marker=dict(size=5.5, color='#0000ff', line=dict(width=0))))

for ys, ax in [(sun_y, 'x'), (sun_z, 'x2')]:
    fig.add_trace(go.Scatter(x=sun_x, y=ys, mode='markers',
                             xaxis=ax, yaxis=ax.replace('x', 'y'),
                             marker=dict(size=10, color='#ffa500', line=dict(width=0))))

# dashed circles round the Sun in the top panel
for r in circle_radii:
    fig.add_shape(type='circle', xref='x', yref='y',
                  x0=sun_x[0] - r, x1=sun_x[0] + r,
                  y0=sun_y[0] - r, y1=sun_y[0] + r,
                  line=dict(color='black', width=3, dash='11px,5px'),
                  layer='above')

axis_style = dict(showline=True, linecolor='black', linewidth=1.6, mirror=True,
                  ticks='outside', ticklen=8, tickwidth=1.4, tickcolor='black',
                  showgrid=False, zeroline=False, automargin=False,
                  tickfont=dict(family=font_family, size=25, color='black'))

fig.update_layout(
    width=832, height=1346, autosize=False,
    template='none',
    margin=dict(l=174, r=38, t=33, b=132),
    paper_bgcolor='white', plot_bgcolor='white',
    showlegend=False,
    font=dict(family=font_family, color='black'),
    xaxis=dict(axis_style, domain=[0, 1], anchor='y', range=[6, -16], tickvals=x_ticks),
    yaxis=dict(axis_style, domain=[0.53683, 1], anchor='x', range=[10, -10],
               tickvals=y_ticks, tickformat='.1f',
               title=dict(text='y/kpc', font=dict(size=35), standoff=16)),
    xaxis2=dict(axis_style, domain=[0, 1], anchor='y2', range=[6, -16], tickvals=x_ticks,
                title=dict(text='x/kpc', font=dict(size=36), standoff=14)),
    yaxis2=dict(axis_style, domain=[0, 0.46317], anchor='x2', range=[-10, 10],
                tickvals=y_ticks, tickformat='.1f',
                title=dict(text='z/kpc', font=dict(size=36), standoff=16)),
)

fig.write_html("out.html")
